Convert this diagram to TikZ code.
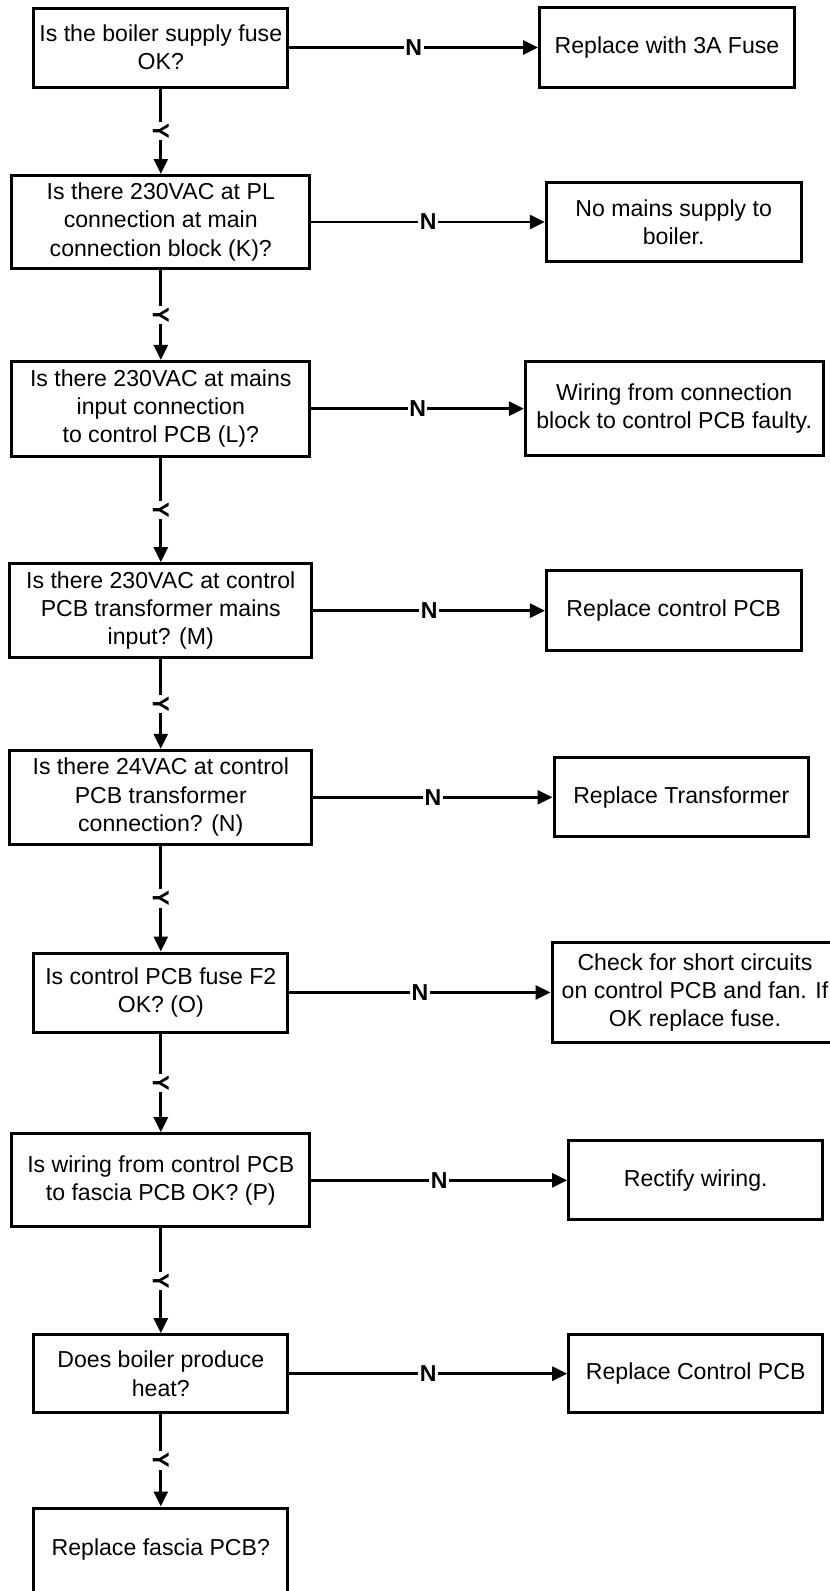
\documentclass[tikz,border=0pt]{standalone}
\usepackage{fontspec}
\setmainfont{Liberation Sans}
\usetikzlibrary{arrows.meta}

\tikzset{
    box/.style={draw=black, line width=3pt, align=center, inner sep=2pt,
        font=\fontsize{23.1}{28.3}\selectfont},
    flow/.style={line width=2.8pt, -{Triangle[length=15pt,width=14pt]}},
    yeslbl/.style={midway, fill=white, inner sep=1.5pt, rotate=-90,
        font=\fontsize{23.1}{28.3}\selectfont\bfseries},
    nolbl/.style={midway, fill=white, inner sep=1.5pt,
        font=\fontsize{23.1}{28.3}\selectfont\bfseries}
}

\begin{document}
\begin{tikzpicture}[x=1pt, y=-1pt]
            \useasboundingbox (0,0) rectangle (830,1591);

            \node[box, minimum width=254pt, minimum height=79pt] (q1) at (160.8,47.5) {Is the boiler supply fuse\\OK?};
            \node[box, minimum width=298pt, minimum height=93pt] (q2) at (160.8,222) {Is there 230VAC at PL\\connection at main\\connection block (K)?};
            \node[box, minimum width=298pt, minimum height=94.6pt] (q3) at (160.8,408.7) {Is there 230VAC at mains\\input connection\\to control PCB (L)?};
            \node[box, minimum width=302pt, minimum height=94pt] (q4) at (160.8,610.7) {Is there 230VAC at control\\PCB transformer mains\\input? (M)};
            \node[box, minimum width=302pt, minimum height=94pt] (q5) at (160.8,797.3) {Is there 24VAC at control\\PCB transformer\\connection? (N)};
            \node[box, minimum width=254pt, minimum height=79pt] (q6) at (160.8,992.5) {Is control PCB fuse F2\\OK? (O)};
            \node[box, minimum width=298pt, minimum height=93.3pt] (q7) at (160.8,1180.3) {Is wiring from control PCB\\to fascia PCB OK? (P)};
            \node[box, minimum width=254pt, minimum height=78pt] (q8) at (160.8,1373.7) {Does boiler produce\\heat?};
            \node[box, minimum width=254pt, minimum height=84pt] (q9) at (160.8,1550) {Replace fascia PCB?};

            \node[box, minimum width=254.7pt, minimum height=79.3pt] (r1) at (667,47.5) {Replace with 3A Fuse};
            \node[box, minimum width=254.6pt, minimum height=79.6pt] (r2) at (673.7,222) {No mains supply to\\boiler.};
            \node[box, minimum width=297.6pt, minimum height=94pt] (r3) at (674.2,408.7) {Wiring from connection\\block to control PCB faulty.};
            \node[box, minimum width=254.6pt, minimum height=79.7pt] (r4) at (673.7,610.7) {Replace control PCB};
            \node[box, minimum width=254.6pt, minimum height=79pt] (r5) at (681.3,797.3) {Replace Transformer};
            \node[box, minimum width=286pt, minimum height=100.6pt] (r6) at (695,992.5) {Check for short circuits\\on control PCB and fan. If\\OK replace fuse.};
            \node[box, minimum width=254pt, minimum height=78.7pt] (r7) at (695.7,1180.3) {Rectify wiring.};
            \node[box, minimum width=254pt, minimum height=78pt] (r8) at (695.7,1373.7) {Replace Control PCB};

            \foreach \i [count=\j from 2] in {1,...,8} {
                \draw[flow] (q\i.south) -- node[yeslbl] {Y} (q\j.north);
                \draw[flow] (q\i.east) -- node[nolbl] {N} (r\i.west);
            }
        \end{tikzpicture}
\end{document}
